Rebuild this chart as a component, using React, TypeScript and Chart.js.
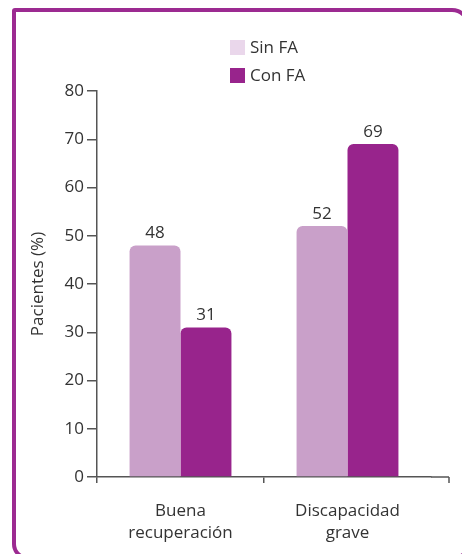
import React, { useEffect, useRef } from 'react';
import { Chart, registerables } from 'chart.js';

Chart.register(...registerables);

const categories: string[][] = [['Buena', 'recuperación'], ['Discapacidad', 'grave']];
const seriesNames = ['Sin FA', 'Con FA'];
const sinFA = [48, 52];
const conFA = [31, 69];
const yTickValues = [0, 10, 20, 30, 40, 50, 60, 70, 80];
const yTitle = 'Pacientes (%)';

const barColors = ['#c9a0c9', '#98248c'];
const legendColors = ['#ead7eb', '#98248c'];
const textColor = '#333333';
const axisColor = '#555555';
const FONT = "'Open Sans', 'Noto Sans', sans-serif";

const valueLabels = {
  id: 'valueLabels',
  afterDatasetsDraw(chart: any) {
    const ctx = chart.ctx;
    ctx.save();
    ctx.font = `17px ${FONT}`;
    ctx.fillStyle = textColor;
    ctx.textAlign = 'center';
    ctx.textBaseline = 'middle';
    chart.data.datasets.forEach((ds: any, di: number) => {
      const meta = chart.getDatasetMeta(di);
      meta.data.forEach((el: any, i: number) => {
        ctx.fillText(String(ds.data[i]), el.x, el.y - 12);
      });
    });
    ctx.restore();
  },
};

const stackedLegend = {
  id: 'stackedLegend',
  afterDraw(chart: any) {
    const ctx = chart.ctx;
    ctx.save();
    ctx.font = `17px ${FONT}`;
    ctx.textBaseline = 'middle';
    ctx.textAlign = 'left';
    const left = 230;
    const top = 40;
    const box = 15;
    const gap = 28;
    chart.data.datasets.forEach((ds: any, i: number) => {
      const y = top + i * gap;
      ctx.fillStyle = legendColors[i];
      ctx.fillRect(left, y, box, box);
      ctx.fillStyle = textColor;
      ctx.fillText(ds.label, left + box + 5, y + box / 2 + 0.5);
    });
    ctx.restore();
  },
};

const axisOverhang = {
  id: 'axisOverhang',
  afterDraw(chart: any) {
    const { ctx, chartArea } = chart;
    const ext = 18;
    ctx.save();
    ctx.strokeStyle = axisColor;
    ctx.lineWidth = 1.5;
    ctx.beginPath();
    ctx.moveTo(chartArea.right, chartArea.bottom);
    ctx.lineTo(chartArea.right + ext, chartArea.bottom);
    ctx.moveTo(chartArea.right + ext, chartArea.bottom);
    ctx.lineTo(chartArea.right + ext, chartArea.bottom + 6);
    ctx.stroke();
    ctx.restore();
  },
};

export default function App() {
  const ref = useRef<HTMLCanvasElement>(null);

  useEffect(() => {
    if (!ref.current) return;
    const chart = new Chart(ref.current, {
      type: 'bar',
      data: {
        labels: categories as any,
        datasets: [
          {
            label: seriesNames[0],
            data: sinFA,
            backgroundColor: barColors[0],
            borderRadius: { topLeft: 6, topRight: 6, bottomLeft: 0, bottomRight: 0 },
            borderSkipped: false,
          },
          {
            label: seriesNames[1],
            data: conFA,
            backgroundColor: barColors[1],
            borderRadius: { topLeft: 6, topRight: 6, bottomLeft: 0, bottomRight: 0 },
            borderSkipped: false,
          },
        ],
      },
      options: {
        responsive: false,
        animation: false,
        devicePixelRatio: 1,
        layout: { padding: { left: 23, right: 31, top: 91, bottom: 0 } },
        datasets: { bar: { barPercentage: 1, categoryPercentage: 0.61 } } as any,
        plugins: {
          legend: { display: false },
          tooltip: { enabled: false },
        },
        scales: {
          x: {
            afterFit: (scale: any) => {
              scale.height = 77;
            },
            grid: {
              offset: true,
              drawOnChartArea: false,
              tickLength: 6,
              lineWidth: 1.5,
              color: (c: any) => (c.type === 'tick' ? axisColor : 'rgba(0,0,0,0)'),
            },
            border: { display: true, color: axisColor, width: 1.5 },
            ticks: {
              color: textColor,
              font: { family: FONT, size: 17, lineHeight: 1.3 },
              padding: 17,
              maxRotation: 0,
            },
          },
          y: {
            min: 0,
            max: 80,
            afterBuildTicks: (scale: any) => {
              scale.ticks = yTickValues.map((v) => ({ value: v }));
            },
            afterFit: (scale: any) => {
              scale.width = 74;
            },
            grid: {
              drawOnChartArea: false,
              tickLength: 10,
              lineWidth: 1.5,
              color: axisColor,
            },
            border: { display: true, color: axisColor, width: 1.5 },
            ticks: {
              color: textColor,
              font: { family: FONT, size: 17 },
              padding: 3,
            },
            title: {
              display: true,
              text: yTitle,
              color: textColor,
              font: { family: FONT, size: 17 },
              padding: { top: 5, bottom: 0 },
            },
          },
        },
      },
      plugins: [valueLabels, stackedLegend, axisOverhang],
    });
    return () => chart.destroy();
  }, []);

  return (
    <div style={{ position: 'fixed', left: 0, top: 0, width: 462, height: 554, overflow: 'hidden', background: '#fff' }}>
      <div
        style={{
          position: 'absolute',
          left: 12,
          top: 8,
          width: 458,
          height: 552,
          border: '4px solid #9c2a91',
          borderRadius: '3px 18px 16px 16px',
          boxSizing: 'border-box',
        }}
      />
      <canvas ref={ref} width={462} height={554} style={{ position: 'absolute', left: 0, top: 0 }} />
    </div>
  );
}
